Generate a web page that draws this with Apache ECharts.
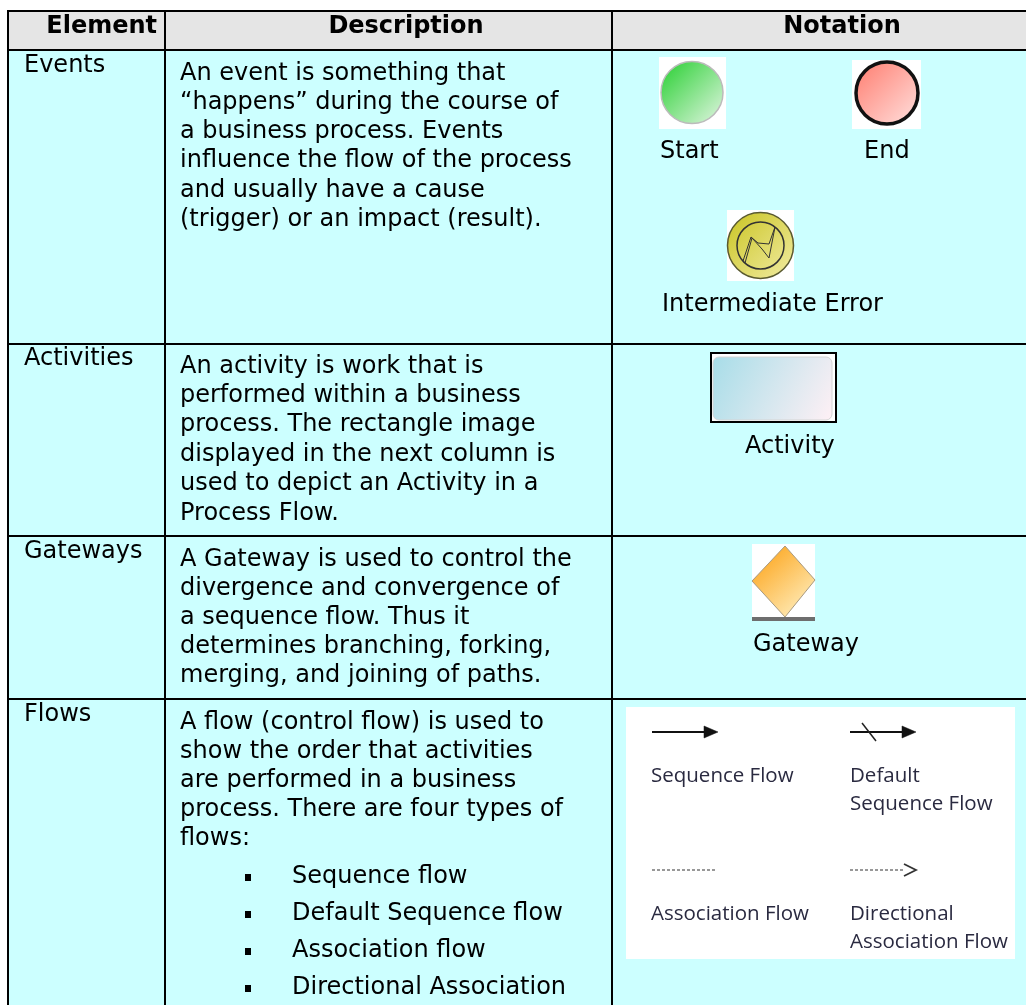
<!DOCTYPE html>
<html>
<head>
<meta charset="utf-8">
<style>html,body{margin:0;padding:0;background:#fff}#main{width:1026px;height:1005px}</style>
<script src="https://cdn.jsdelivr.net/npm/echarts@6/dist/echarts.min.js"></script>
</head>
<body>
<div id="main"></div>
<script>
// 表格文字
var headers = ['Element', 'Description', 'Notation'];
var elementNames = ['Events', 'Activities', 'Gateways', 'Flows'];
var eventLines = ['An event is something that', '“happens” during the course of', 'a business process. Events', 'influence the flow of the process', 'and usually have a cause', '(trigger) or an impact (result).'];
var activityLines = ['An activity is work that is', 'performed within a business', 'process. The rectangle image', 'displayed in the next column is', 'used to depict an Activity in a', 'Process Flow.'];
var gatewayLines = ['A Gateway is used to control the', 'divergence and convergence of', 'a sequence flow. Thus it', 'determines branching, forking,', 'merging, and joining of paths.'];
var flowLines = ['A flow (control flow) is used to', 'show the order that activities', 'are performed in a business', 'process. There are four types of', 'flows:'];
var flowBullets = ['Sequence flow', 'Default Sequence flow', 'Association flow', 'Directional Association'];

var FONT = '"DejaVu Sans", Verdana, sans-serif';
var FONT2 = '"Open Sans", "Noto Sans", sans-serif';
var LINE = '#000';
var children = [];

function rect(x, y, w, h, fill, extra) {
    var o = { type: 'rect', shape: { x: x, y: y, width: w, height: h }, style: { fill: fill } };
    if (extra) {
        if (extra.r) o.shape.r = extra.r;
        if (extra.stroke) { o.style.stroke = extra.stroke; o.style.lineWidth = extra.lineWidth; }
    }
    children.push(o);
}
// y 传基线，zrender 只认 middle，所以这里换算一下
function txt(s, x, y, opt) {
    opt = opt || {};
    var size = opt.size || 24;
    children.push({
        type: 'text',
        style: {
            text: s, x: x, y: y - size * 0.36,
            fill: opt.fill || '#000',
            font: (opt.bold ? 'bold ' : '') + size + 'px ' + (opt.family || FONT),
            textAlign: opt.align || 'left',
            textVerticalAlign: 'middle'
        }
    });
}
function block(lines, x, y0, step) {
    for (var i = 0; i < lines.length; i++) txt(lines[i], x, y0 + i * step);
}
function grad(c0, c1) {
    return new echarts.graphic.LinearGradient(0, 0, 1, 1, [{ offset: 0, color: c0 }, { offset: 1, color: c1 }]);
}
function seg(x1, y1, x2, y2, color, width, dash) {
    var st = { stroke: color, lineWidth: width };
    if (dash) st.lineDash = dash;
    children.push({ type: 'line', shape: { x1: x1, y1: y1, x2: x2, y2: y2 }, style: st });
}
function circle(cx, cy, r, fill, stroke, lw) {
    children.push({ type: 'circle', shape: { cx: cx, cy: cy, r: r }, style: { fill: fill, stroke: stroke, lineWidth: lw } });
}
function poly(points, fill, stroke, lw) {
    children.push({ type: 'polygon', shape: { points: points }, style: { fill: fill, stroke: stroke, lineWidth: lw || 0 } });
}
function zigzag(points, color, lw) {
    children.push({ type: 'polyline', shape: { points: points }, style: { fill: 'none', stroke: color, lineWidth: lw } });
}

// 背景
rect(8, 11, 1018, 39, '#e5e5e5');
rect(8, 50, 1018, 955, '#ccffff');

// 表头
txt(headers[0], 157, 35, { bold: true, align: 'right' });
txt(headers[1], 406, 35, { bold: true, align: 'center' });
txt(headers[2], 842, 35, { bold: true, align: 'center' });

// 表格线
seg(7, 11, 1026, 11, LINE, 2);
seg(7, 50, 1026, 50, LINE, 2);
seg(7, 344, 1026, 344, LINE, 2);
seg(7, 536, 1026, 536, LINE, 2);
seg(7, 699, 1026, 699, LINE, 2);
seg(8, 10, 8, 1005, LINE, 2);
seg(165, 10, 165, 1005, LINE, 2);
seg(612, 10, 612, 1005, LINE, 2);

// 第一列
txt(elementNames[0], 24, 74);
txt(elementNames[1], 24, 367);
txt(elementNames[2], 24, 560);
txt(elementNames[3], 24, 723);

// 第二列
block(eventLines, 180, 82, 29.3);
block(activityLines, 180, 375, 29.4);
block(gatewayLines, 180, 568, 29);
block(flowLines, 180, 731, 29.2);
for (var i = 0; i < flowBullets.length; i++) {
    rect(245, 874 + i * 37, 6, 7, '#000');
    txt(flowBullets[i], 292, 885 + i * 37);
}

// Start
rect(659, 57, 67, 72, '#fff');
circle(692, 92.5, 31, grad('#25cf2f', '#e4f6e4'), '#bbbbbb', 1.5);
txt('Start', 660, 160);
// End
rect(852, 60, 69, 69, '#fff');
circle(887, 93, 31, grad('#ff7a6c', '#ffe3e1'), '#111', 3.5);
txt('End', 864, 160);
// Intermediate Error
rect(727, 210, 67, 71, '#fff');
circle(760.5, 245.5, 33, grad('#c9c421', '#f2eca4'), '#5a5a30', 1.5);
circle(760.5, 245.5, 23.5, 'none', '#333', 1.5);
zigzag([[745, 263], [752, 238], [762, 249], [769, 258], [775, 227], [769, 244], [758, 243], [751, 237], [743, 261]], '#333', 1);
txt('Intermediate Error', 662, 313);

// Activity
rect(711, 353, 125, 69, '#fff', { stroke: '#000', lineWidth: 2 });
rect(713, 357, 119, 63, grad('#a7dde8', '#fff0f5'), { r: 6, stroke: '#d4d4d4', lineWidth: 1 });
txt('Activity', 745, 455);

// Gateway
rect(752, 544, 63, 77, '#fff');
poly([[785, 546], [815, 580], [785, 617], [752, 581]], grad('#fc9d0a', '#fff6d0'), '#a89a80', 1);
rect(752, 617, 63, 4, '#6e6e6e');
txt('Gateway', 753, 653);

// Flows 图例
rect(626, 707, 389, 252, '#fff');
seg(652, 732, 708, 732, '#111', 2);
poly([[704, 726], [718, 732], [704, 738]], '#111', '#111', 0.5);
seg(850, 732, 906, 732, '#111', 2);
poly([[902, 726], [916, 732], [902, 738]], '#111', '#111', 0.5);
seg(862, 723, 876, 741, '#222', 1.5);
seg(652, 870, 716, 870, '#777', 1.5, [3, 2]);
seg(850, 870, 905, 870, '#777', 1.5, [3, 2]);
zigzag([[904, 864], [916, 870], [904, 876]], '#333', 1.8);
var C2 = { size: 20.5, family: FONT2, fill: '#2a2a40' };
txt('Sequence Flow', 651, 784, C2);
txt('Default', 850, 784, C2);
txt('Sequence Flow', 850, 812, C2);
txt('Association Flow', 651, 922, C2);
txt('Directional', 850, 922, C2);
txt('Association Flow', 850, 950, C2);

var chart = echarts.init(document.getElementById('main'), null, { renderer: 'canvas' });
chart.setOption({
    backgroundColor: '#fff',
    animation: false,
    graphic: { elements: [{ type: 'group', children: children }] }
});
</script>
</body>
</html>
